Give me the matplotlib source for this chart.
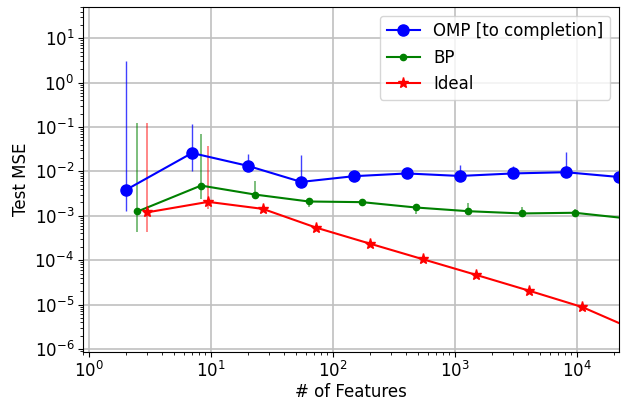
import matplotlib
matplotlib.use("Agg")
import matplotlib.pyplot as plt
import numpy as np

plt.rcParams['font.size'] = 12

# number of features tried for each method
features_omp = [2, 7, 20, 55, 148, 403, 1097, 2981, 8103, 22026]
features_bp = [2.5, 8.3, 23.2, 63.6, 174, 476, 1285, 3520, 9630, 26200]
features_ideal = [2.97, 9.5, 26.7, 73, 200, 547, 1479, 4040, 11060, 29700]

# test mse (median) with lower / upper spread
mse_omp = [0.0038, 0.026, 0.0134, 0.0058, 0.0078, 0.009, 0.0079, 0.009, 0.0096, 0.0075]
lo_omp = [0.0013, 0.0102, 0.0105, 0.0047, 0.0072, 0.0083, 0.0072, 0.0082, 0.0088, 0.0069]
hi_omp = [3.1, 0.117, 0.0245, 0.0233, 0.0086, 0.0098, 0.0139, 0.0131, 0.0273, 0.0082]

mse_bp = [0.00125, 0.0048, 0.0030, 0.0021, 0.00203, 0.00154, 0.00127, 0.00113, 0.00117, 0.00087]
lo_bp = [0.00044, 0.0024, 0.0025, 0.0016, 0.0018, 0.0011, 0.0011, 0.00100, 0.00092, 0.0008]
hi_bp = [0.123, 0.0695, 0.0061, 0.0023, 0.0022, 0.0017, 0.0019, 0.0016, 0.0014, 0.00095]

mse_ideal = [0.00119, 0.00206, 0.00143, 0.00054, 0.000237, 0.000105, 4.7e-05, 2.06e-05, 8.8e-06, 2.7e-06]
lo_ideal = [0.00044, 0.0014, 0.0013, 0.0005, 0.00022, 0.0001, 4.5e-05, 2.0e-05, 8.5e-06, 2.6e-06]
hi_ideal = [0.123, 0.038, 0.0016, 0.00058, 0.00025, 0.00011, 4.9e-05, 2.1e-05, 9.1e-06, 2.8e-06]


def spread(mid, lo, hi):
    mid, lo, hi = np.array(mid), np.array(lo), np.array(hi)
    return [mid - lo, hi - mid]


fig = plt.figure(figsize=(6.21, 4.04), dpi=100)
ax = fig.add_axes([0.133, 0.128, 0.863, 0.854])
ax.set_xscale('log')
ax.set_yscale('log')

# spread first (no legend entry), then the curves on top
ax.errorbar(features_omp, mse_omp, yerr=spread(mse_omp, lo_omp, hi_omp),
            fmt='none', ecolor='b', elinewidth=1, alpha=0.75)
ax.errorbar(features_bp, mse_bp, yerr=spread(mse_bp, lo_bp, hi_bp),
            fmt='none', ecolor='g', elinewidth=1.2, alpha=0.6)
ax.errorbar(features_ideal, mse_ideal, yerr=spread(mse_ideal, lo_ideal, hi_ideal),
            fmt='none', ecolor='r', elinewidth=1.2, alpha=0.55)

ax.plot(features_omp, mse_omp, color='b', marker='o', lw=1.5, ms=8, label='OMP [to completion]')
ax.plot(features_bp, mse_bp, color='g', marker='.', lw=1.5, ms=9, label='BP')
ax.plot(features_ideal, mse_ideal, color='r', marker='*', lw=1.5, ms=8, label='Ideal')

ax.set_xlim(0.887, 21970)
ax.set_ylim(8.4e-7, 50)
ax.grid(True, which='major', color='#c0c0c0', lw=1.2)
ax.set_axisbelow(True)
ax.tick_params(which='both', pad=2.5)
ax.set_xlabel('# of Features', labelpad=2)
ax.set_ylabel('Test MSE', labelpad=3)
ax.legend(loc='upper right')

fig.savefig('out.png', dpi=100)
